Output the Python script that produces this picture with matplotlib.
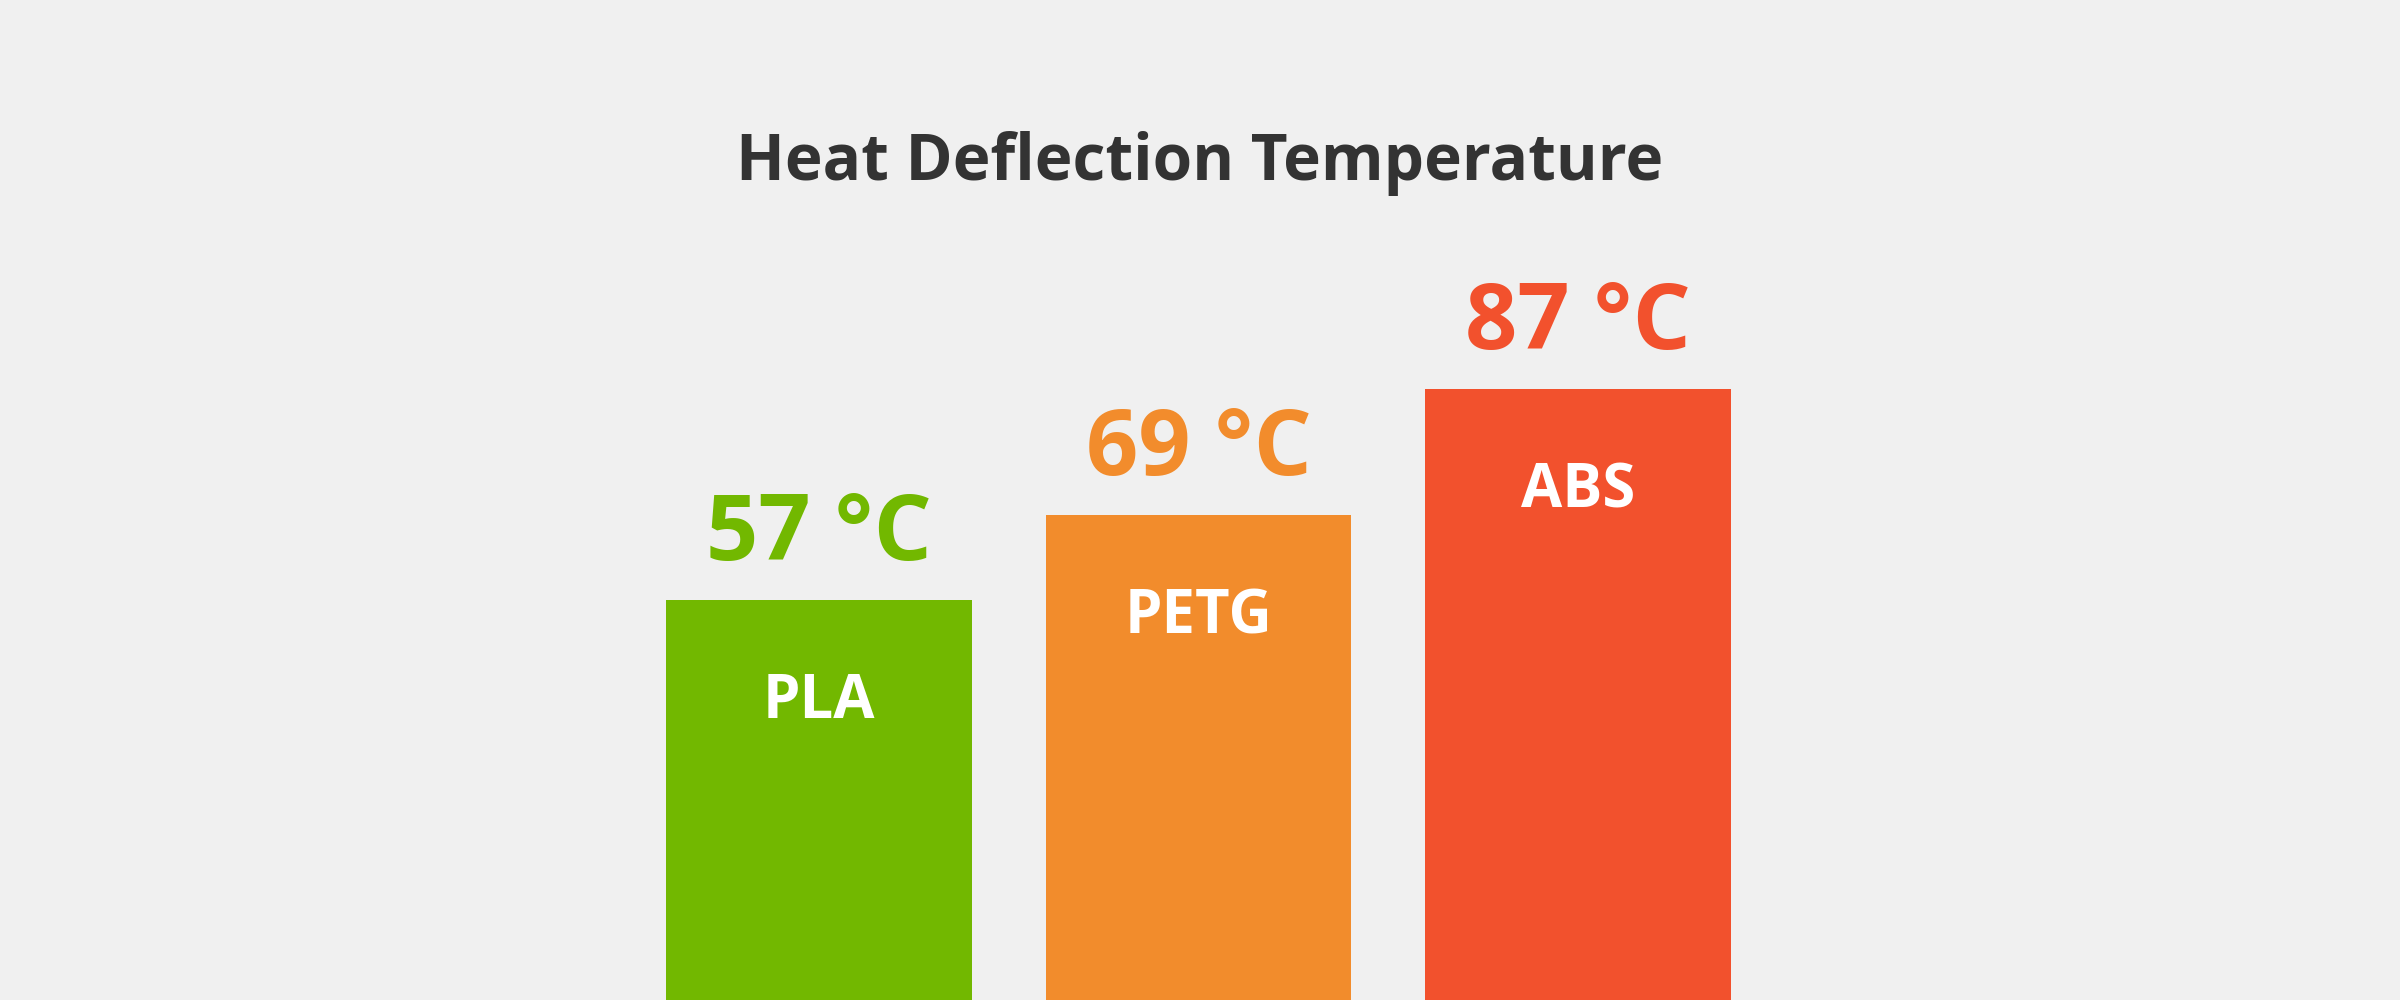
import matplotlib
matplotlib.use("Agg")
import matplotlib.pyplot as plt

materials = ["PLA", "PETG", "ABS"]
temps = [57, 69, 87]
colors = ["#72b800", "#f28c2c", "#f2512d"]
title = "Heat Deflection Temperature"

plt.rcParams['font.family'] = ['Open Sans', 'DejaVu Sans']
fig = plt.figure(figsize=(24, 10), dpi=100, facecolor="#f0f0f0")
ax = fig.add_axes([0, 0, 1, 1])
ax.set_facecolor("#f0f0f0")
x = list(range(len(materials)))
ax.bar(x, temps, width=0.806, color=colors)
ax.set_xlim(-2.158, 4.166)
ax.set_ylim(0, 142.4)
ax.axis("off")
for xi, t, m, c in zip(x, temps, materials, colors):
    ax.annotate(f"{t} °C", (xi, t), xytext=(0, 40), textcoords="offset pixels",
                ha="center", va="baseline", fontsize=66, fontweight="bold", color=c)
    ax.annotate(m, (xi, t), xytext=(0, -118), textcoords="offset pixels",
                ha="center", va="baseline", fontsize=43, fontweight="bold", color="white")
fig.text(0.5, 1 - 180 / 1000, title, ha="center", va="baseline", fontsize=46,
         fontweight="bold", color="#333333")
fig.savefig("out.png", dpi=100, facecolor=fig.get_facecolor())
